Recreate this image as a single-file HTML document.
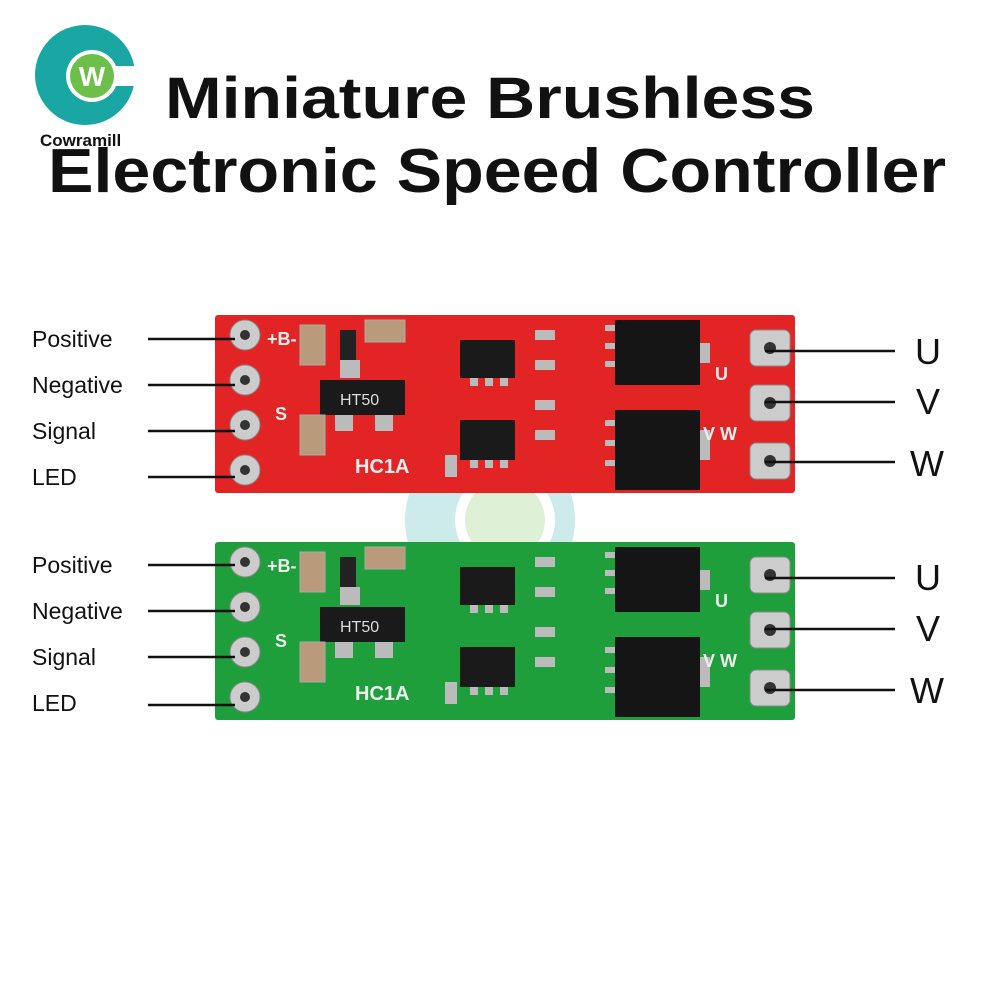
<!DOCTYPE html>
<html><head><meta charset="utf-8"><style>
html,body{margin:0;padding:0;background:#fff;}
body{width:1000px;height:1000px;overflow:hidden;}
</style></head><body>
<svg width="1000" height="1000" viewBox="0 0 1000 1000" xmlns="http://www.w3.org/2000/svg" font-family="Liberation Sans, sans-serif">
<rect width="1000" height="1000" fill="#fff"/>
<!-- logo -->
<circle cx="85" cy="75" r="50" fill="#1aa7a4"/>
<rect x="115" y="66" width="25" height="20" fill="#fff"/>
<circle cx="92" cy="76" r="26" fill="#fff"/>
<circle cx="92" cy="76" r="22" fill="#6cc04a"/>
<text x="92" y="86" font-size="28" font-weight="bold" fill="#fff" text-anchor="middle">W</text>
<text x="40" y="146" font-size="17" font-weight="bold" fill="#111">Cowramill</text>
<!-- title -->
<text x="165" y="118" font-size="58" fill="#111" font-weight="bold" textLength="650" lengthAdjust="spacingAndGlyphs">Miniature Brushless</text>
<text x="48" y="192" font-size="62" fill="#111" font-weight="bold" textLength="898" lengthAdjust="spacingAndGlyphs">Electronic Speed Controller</text>
<!-- watermark -->
<g opacity="0.22"><circle cx="490" cy="520" r="85" fill="#1aa7a4"/><circle cx="505" cy="520" r="50" fill="#fff"/><circle cx="505" cy="520" r="40" fill="#6cc04a"/></g>

<defs>
<g id="board">
  <rect x="0" y="0" width="580" height="178" rx="3"/>
  <g fill="#ccc" stroke="#888" stroke-width="1">
    <circle cx="30" cy="20" r="15"/><circle cx="30" cy="65" r="15"/><circle cx="30" cy="110" r="15"/><circle cx="30" cy="155" r="15"/>
    <rect x="535" y="15" width="40" height="36" rx="6"/><rect x="535" y="70" width="40" height="36" rx="6"/><rect x="535" y="128" width="40" height="36" rx="6"/>
  </g>
  <g fill="#333"><circle cx="30" cy="20" r="5"/><circle cx="30" cy="65" r="5"/><circle cx="30" cy="110" r="5"/><circle cx="30" cy="155" r="5"/>
  <circle cx="555" cy="33" r="6"/><circle cx="555" cy="88" r="6"/><circle cx="555" cy="146" r="6"/></g>
  <rect x="400" y="5" width="85" height="65" fill="#151515"/>
  <rect x="400" y="95" width="85" height="80" fill="#151515"/>
  <g fill="#bbb"><rect x="390" y="10" width="10" height="6"/><rect x="390" y="28" width="10" height="6"/><rect x="390" y="46" width="10" height="6"/>
  <rect x="390" y="105" width="10" height="6"/><rect x="390" y="125" width="10" height="6"/><rect x="390" y="145" width="10" height="6"/>
  <rect x="485" y="28" width="10" height="20" /><rect x="485" y="115" width="10" height="30"/></g>
  <rect x="245" y="25" width="55" height="38" fill="#1a1a1a"/>
  <rect x="245" y="105" width="55" height="40" fill="#1a1a1a"/>
  <rect x="105" y="65" width="85" height="35" fill="#1a1a1a"/>
  <g fill="#bbb"><rect x="125" y="45" width="20" height="18"/><rect x="120" y="100" width="18" height="16"/><rect x="160" y="100" width="18" height="16"/>
  <rect x="255" y="63" width="8" height="8"/><rect x="270" y="63" width="8" height="8"/><rect x="285" y="63" width="8" height="8"/>
  <rect x="255" y="145" width="8" height="8"/><rect x="270" y="145" width="8" height="8"/><rect x="285" y="145" width="8" height="8"/>
  <rect x="320" y="15" width="20" height="10"/><rect x="320" y="45" width="20" height="10"/><rect x="320" y="85" width="20" height="10"/><rect x="320" y="115" width="20" height="10"/><rect x="230" y="140" width="12" height="22"/></g>
  <text x="125" y="90" font-size="16" fill="#ddd">HT50</text>
  <rect x="85" y="10" width="25" height="40" fill="#b99a7a" stroke="#aaa"/>
  <rect x="85" y="100" width="25" height="40" fill="#b99a7a" stroke="#aaa"/>
  <rect x="150" y="5" width="40" height="22" fill="#b99a7a" stroke="#aaa"/>
  <rect x="125" y="15" width="16" height="30" fill="#222"/>
  <text x="52" y="30" font-size="18" font-weight="bold" fill="#eee">+B-</text>
  <text x="60" y="105" font-size="18" font-weight="bold" fill="#eee">S</text>
  <text x="140" y="158" font-size="20" font-weight="bold" fill="#eee">HC1A</text>
  <text x="500" y="65" font-size="18" font-weight="bold" fill="#eee">U</text>
  <text x="488" y="125" font-size="18" font-weight="bold" fill="#eee">V W</text>
</g>
</defs>
<use href="#board" x="215" y="315" fill="#e32424"/>
<use href="#board" x="215" y="542" fill="#1f9e3c"/>

<g stroke="#111" stroke-width="2.5">
<line x1="148" y1="339" x2="235" y2="339"/><line x1="148" y1="385" x2="235" y2="385"/><line x1="148" y1="431" x2="235" y2="431"/><line x1="148" y1="477" x2="235" y2="477"/>
<line x1="765" y1="351" x2="895" y2="351"/><line x1="765" y1="402" x2="895" y2="402"/><line x1="765" y1="462" x2="895" y2="462"/>
<line x1="148" y1="565" x2="235" y2="565"/><line x1="148" y1="611" x2="235" y2="611"/><line x1="148" y1="657" x2="235" y2="657"/><line x1="148" y1="705" x2="235" y2="705"/>
<line x1="765" y1="578" x2="895" y2="578"/><line x1="765" y1="629" x2="895" y2="629"/><line x1="765" y1="690" x2="895" y2="690"/>
</g>
<g font-size="23" fill="#111">
<text x="32" y="347">Positive</text><text x="32" y="393">Negative</text><text x="32" y="439">Signal</text><text x="32" y="485">LED</text>
<text x="32" y="573">Positive</text><text x="32" y="619">Negative</text><text x="32" y="665">Signal</text><text x="32" y="711">LED</text>
</g>
<g font-size="36" fill="#111">
<text x="915" y="364">U</text><text x="916" y="414">V</text><text x="910" y="476">W</text>
<text x="915" y="590">U</text><text x="916" y="641">V</text><text x="910" y="703">W</text>
</g>
</svg>
</body></html>
